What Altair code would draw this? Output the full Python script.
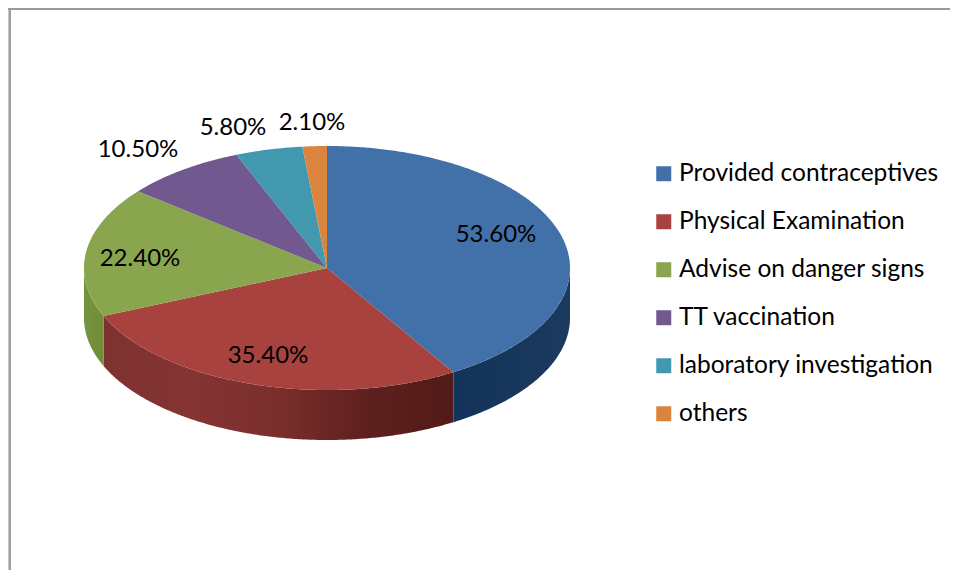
import math
import altair as alt
import pandas as pd

categories = ["Provided contraceptives", "Physical Examination", "Advise on danger signs",
              "TT vaccination", "laboratory investigation", "others"]
values = [53.6, 35.4, 22.4, 10.5, 5.8, 2.1]
labels = ["53.60%", "35.40%", "22.40%", "10.50%", "5.80%", "2.10%"]
colors = ["#4271A9", "#A8423F", "#89A54E", "#71588F", "#4198AF", "#DB843D"]

W, H = 942, 562
CX, CY, RX, RY, DEPTH = 319, 260, 243, 122, 50
FONT = "Lato"
total = sum(values)

def pt(deg, drop=0):
    a = math.radians(deg)
    return CX + RX * math.sin(a), CY - RY * math.cos(a) + drop

top_rows, walls = [], []
start = 0.0
for cat, v in zip(categories, values):
    end = start + v / total * 360
    n = max(2, int(end - start) * 2)
    angs = [start + (end - start) * i / n for i in range(n + 1)]
    poly = [(CX, CY)] + [pt(a) for a in angs]
    for i, (x, y) in enumerate(poly):
        top_rows.append({"cat": cat, "i": i, "x": x, "y": y})
    lo, hi = max(start, 90), min(end, 270)
    if hi > lo:
        m = max(2, int(hi - lo) * 2)
        w = [lo + (hi - lo) * i / m for i in range(m + 1)]
        outline = [pt(a) for a in w] + [pt(a, DEPTH) for a in reversed(w)]
        walls.append((cat, outline))
    start = end

wall_stops = {
    "Provided contraceptives": ["#12335A", "#1C3A5E"],
    "Physical Examination": ["#7E3230", "#843432", "#7A2E2C", "#5E201E", "#521A18"],
    "Advise on danger signs": ["#76943F", "#6F8C3A"],
}

xs = alt.X("x:Q", scale=alt.Scale(domain=[0, W], range=[0, W], nice=False, zero=False), axis=None)
ys = alt.Y("y:Q", scale=alt.Scale(domain=[H, 0], range=[H, 0], nice=False, zero=False), axis=None)

layers = []
layers.append(alt.Chart(pd.DataFrame({"a": [0]})).mark_rule(color="#9A9A9A", strokeWidth=2.5).encode(
    x=alt.value(1.7), y=alt.value(0), y2=alt.value(H)))
layers.append(alt.Chart(pd.DataFrame({"a": [0]})).mark_rule(color="#9A9A9A", strokeWidth=2).encode(
    y=alt.value(1), x=alt.value(0), x2=alt.value(W)))

for cat, outline in walls:
    stops = wall_stops[cat]
    grad = alt.LinearGradient(
        gradient="linear", x1=0, x2=1, y1=0, y2=0,
        stops=[alt.GradientStop(color=c, offset=i / (len(stops) - 1)) for i, c in enumerate(stops)])
    df = pd.DataFrame([{"i": i, "x": x, "y": y} for i, (x, y) in enumerate(outline)])
    layers.append(alt.Chart(df).mark_line(fill=grad, strokeWidth=0, interpolate="linear").encode(
        x=xs, y=ys, order="i:Q"))

top = alt.Chart(pd.DataFrame(top_rows)).mark_line(strokeWidth=0).encode(
    x=xs, y=ys, order="i:Q",
    fill=alt.Fill("cat:N", sort=categories,
                  scale=alt.Scale(domain=categories, range=colors),
                  legend=alt.Legend(title=None, orient="none", legendX=643.5, legendY=153.5,
                                    symbolType="square", symbolSize=225, symbolStrokeWidth=0,
                                    labelFont=FONT, labelFontSize=24.5, labelColor="#000000",
                                    labelOffset=3, rowPadding=23, labelLimit=320)))
layers.append(top)

label_xy = [(488, 227), (260, 348), (132, 251), (130, 142), (225, 120), (304, 115)]
for t, (lx, ly) in zip(labels, label_xy):
    layers.append(alt.Chart(pd.DataFrame({"t": [t]})).mark_text(
        x=lx, y=ly, font=FONT, fontSize=24, color="#000000", align="center", baseline="middle"
    ).encode(text="t:N"))

chart = alt.layer(*layers).properties(
    width=W, height=H, padding=0, autosize=alt.AutoSizeParams(type="none"),
    background="#FFFFFF"
).configure_view(stroke=None)

chart.save("out.html", embed_options={"renderer": "svg", "actions": False})
